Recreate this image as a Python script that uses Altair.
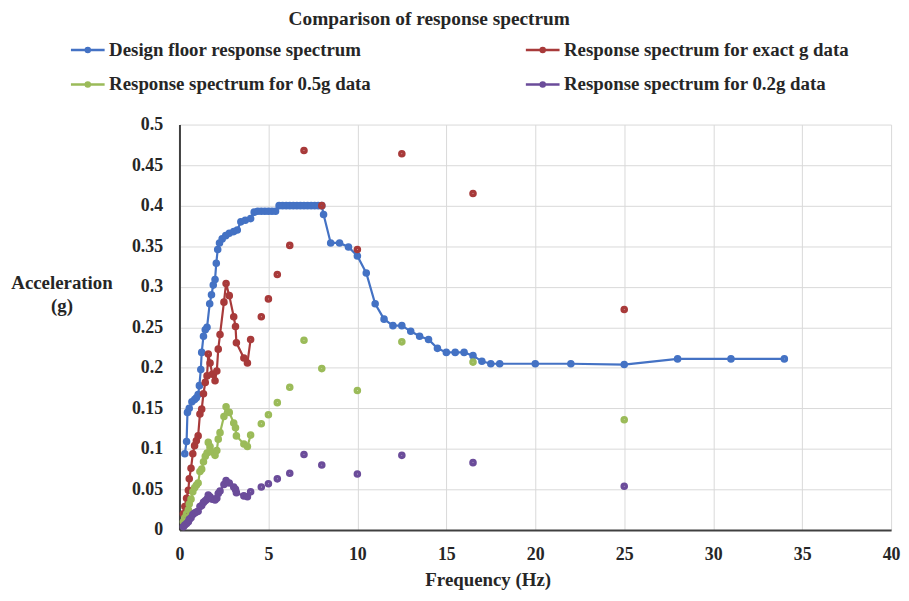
import altair as alt
import pandas as pd

TITLE = "Comparison of response spectrum"
SERIES = [
    "Design  floor response spectrum",
    "Response spectrum for exact g data",
    "Response spectrum for 0.5g data",
    "Response spectrum for 0.2g data",
]
COLORS = ["#4472C4", "#A83A3A", "#9BBB59", "#6B4C9A"]

x_ticks = [0, 5, 10, 15, 20, 25, 30, 35, 40]
y_ticks = [0, 0.05, 0.1, 0.15, 0.2, 0.25, 0.3, 0.35, 0.4, 0.45, 0.5]

# Design floor response spectrum (connected)
design_f = [0.3, 0.4, 0.45, 0.55, 0.7, 0.85, 0.95, 1.05, 1.12, 1.2, 1.25, 1.35, 1.45, 1.55,
            1.7, 1.8, 1.9, 2.0, 2.07, 2.15, 2.25, 2.4, 2.6, 2.8, 3.05, 3.25, 3.45, 3.7, 4.0,
            4.2, 4.4, 4.6, 4.8, 5.0, 5.2, 5.4,
            5.6, 5.8, 6.0, 6.2, 6.4, 6.6, 6.8, 7.0, 7.2, 7.4, 7.6, 7.8, 8.0,
            8.1, 8.5, 9.0, 9.5, 10.0, 10.5, 11.0, 11.5, 12.0, 12.5, 13.0, 13.5, 14.0, 14.5,
            15.0, 15.5, 16.0, 16.5, 17.0, 17.5, 18.0,
            20.0, 22.0, 25.0, 28.0, 31.0, 34.0]
design_v = [0.094, 0.109, 0.145, 0.150, 0.158, 0.161, 0.163, 0.167, 0.178, 0.198, 0.219, 0.239,
            0.247, 0.250, 0.279, 0.290, 0.302, 0.309, 0.329, 0.346, 0.354, 0.359, 0.363, 0.366,
            0.368, 0.370, 0.380, 0.382, 0.384,
            0.392, 0.393, 0.393, 0.393, 0.393, 0.393, 0.393,
            0.400, 0.400, 0.400, 0.400, 0.400, 0.400, 0.400, 0.400, 0.400, 0.400, 0.400, 0.400, 0.400,
            0.389, 0.354, 0.354, 0.349, 0.338, 0.317, 0.279, 0.260, 0.252, 0.252, 0.245, 0.239,
            0.235, 0.224, 0.219, 0.219, 0.219, 0.215, 0.208, 0.205, 0.205,
            0.205, 0.205, 0.204, 0.211, 0.211, 0.211]

# Measured spectra: connected low-frequency part
curve_f = [0.22, 0.3, 0.4, 0.5, 0.55, 0.65, 0.75, 0.85, 0.95, 1.05, 1.15, 1.25, 1.35, 1.45,
           1.55, 1.62, 1.72, 1.85, 2.0, 2.1, 2.18, 2.28, 2.5, 2.62, 2.8, 3.05, 3.15, 3.2,
           3.62, 3.82, 4.0]
exact_curve_v = [0.020, 0.029, 0.039, 0.049, 0.063, 0.076, 0.094, 0.104, 0.110, 0.116, 0.143,
                 0.149, 0.168, 0.182, 0.190, 0.217, 0.206, 0.192, 0.184, 0.196, 0.223, 0.241,
                 0.281, 0.304, 0.289, 0.263, 0.251, 0.231, 0.212, 0.206, 0.235]
half_curve_v = [0.010, 0.015, 0.020, 0.025, 0.032, 0.038, 0.047, 0.052, 0.055, 0.058, 0.072,
                0.075, 0.084, 0.091, 0.095, 0.108, 0.103, 0.096, 0.092, 0.098, 0.112, 0.120,
                0.140, 0.152, 0.145, 0.132, 0.126, 0.116, 0.106, 0.103, 0.117]
fifth_curve_v = [0.004, 0.006, 0.008, 0.010, 0.013, 0.015, 0.019, 0.021, 0.022, 0.023, 0.029,
                 0.030, 0.034, 0.036, 0.038, 0.043, 0.041, 0.038, 0.037, 0.039, 0.045, 0.048,
                 0.056, 0.061, 0.058, 0.053, 0.050, 0.046, 0.042, 0.041, 0.047]

# Measured spectra: isolated points
peak_f = [4.6, 5.0, 5.5, 6.2, 7.0, 8.0, 10.0, 12.5, 16.5, 25.0]
exact_peak_v = [0.263, 0.285, 0.315, 0.351, 0.468, 0.400, 0.346, 0.464, 0.415, 0.272]
half_peak_v = [0.131, 0.142, 0.157, 0.176, 0.234, 0.199, 0.172, 0.232, 0.207, 0.136]
fifth_peak_v = [0.053, 0.057, 0.063, 0.070, 0.093, 0.080, 0.069, 0.092, 0.083, 0.054]

assert len(design_f) == len(design_v)
for arr in (exact_curve_v, half_curve_v, fifth_curve_v):
    assert len(arr) == len(curve_f)
for arr in (exact_peak_v, half_peak_v, fifth_peak_v):
    assert len(arr) == len(peak_f)

line_rows, point_rows = [], []
for f, v in zip(design_f, design_v):
    line_rows.append({"freq": f, "acc": v, "series": SERIES[0]})
    point_rows.append({"freq": f, "acc": v, "series": SERIES[0]})
for name, cv, pv in [(SERIES[1], exact_curve_v, exact_peak_v),
                     (SERIES[2], half_curve_v, half_peak_v),
                     (SERIES[3], fifth_curve_v, fifth_peak_v)]:
    for f, v in zip(curve_f, cv):
        line_rows.append({"freq": f, "acc": v, "series": name})
        point_rows.append({"freq": f, "acc": v, "series": name})
    for f, v in zip(peak_f, pv):
        point_rows.append({"freq": f, "acc": v, "series": name})

lines = pd.DataFrame(line_rows)
points = pd.DataFrame(point_rows)
points["idx"] = range(len(points))

FONT = "Liberation Serif"
TXT = "#262626"

x_enc = alt.X("freq:Q", scale=alt.Scale(domain=[0, 40], nice=False),
              axis=alt.Axis(values=x_ticks, format="d", title="Frequency (Hz)",
                            titleX=311, titleY=50, titleAlign="center", titleBaseline="middle",
                            labelPadding=16, labelFlush=False, ticks=False, tickSize=0))
y_enc = alt.Y("acc:Q", scale=alt.Scale(domain=[0, 0.5], nice=False),
              axis=alt.Axis(values=y_ticks, format=".2~f", title=["Acceleration", "(g)"],
                            titleAngle=0, titleX=-119, titleY=159, titleAlign="center",
                            titleBaseline="middle", titleLineHeight=24, labelFlush=False,
                            labelPadding=17, ticks=False, tickSize=0))
color_scale = alt.Scale(domain=SERIES, range=COLORS)


def make_legend():
    return alt.Legend(
        title=None, orient="none", legendX=-111, legendY=-94, columns=2,
        direction="horizontal", columnPadding=150, rowPadding=6, padding=0,
        symbolType="M-1,0L1,0M0.12,0A0.12,0.12,0,1,1,-0.12,0A0.12,0.12,0,1,1,0.12,0",
        symbolSize=1156, symbolStrokeWidth=2.5,
        labelFont=FONT, labelFontSize=19, labelFontWeight="bold", labelColor=TXT,
        labelLimit=500, labelOffset=3,
    )


line_layer = alt.Chart(lines).mark_line(strokeWidth=2.2).encode(
    x=x_enc, y=y_enc,
    color=alt.Color("series:N", scale=color_scale, legend=make_legend()),
    detail="series:N",
)

point_layer = alt.Chart(points).mark_point(filled=False, size=18, strokeWidth=3.4, opacity=1).encode(
    x=x_enc, y=y_enc,
    color=alt.Color("series:N", scale=color_scale, legend=make_legend()),
    order=alt.Order("idx:Q"),
)

title_layer = alt.Chart(pd.DataFrame({"t": [TITLE]})).mark_text(
    font=FONT, fontSize=19.5, fontWeight="bold", align="center", baseline="middle", color=TXT
).encode(text="t:N", x=alt.value(252), y=alt.value(-106))

chart = alt.layer(line_layer, point_layer, title_layer).properties(
    width=718, height=409,
    padding={"left": 173, "top": 115, "right": 10, "bottom": 61},
    autosize=alt.AutoSizeParams(type="none"),
).configure_view(strokeWidth=0).configure_axis(
    labelFont=FONT, labelFontSize=18, labelFontWeight="bold", labelColor=TXT,
    titleFont=FONT, titleFontSize=19, titleFontWeight="bold", titleColor=TXT,
    gridColor="#d9d9d9", gridWidth=1, domainColor="#404040", domainWidth=2,
)

chart.save("out.html", embed_options={"renderer": "svg", "actions": False})
